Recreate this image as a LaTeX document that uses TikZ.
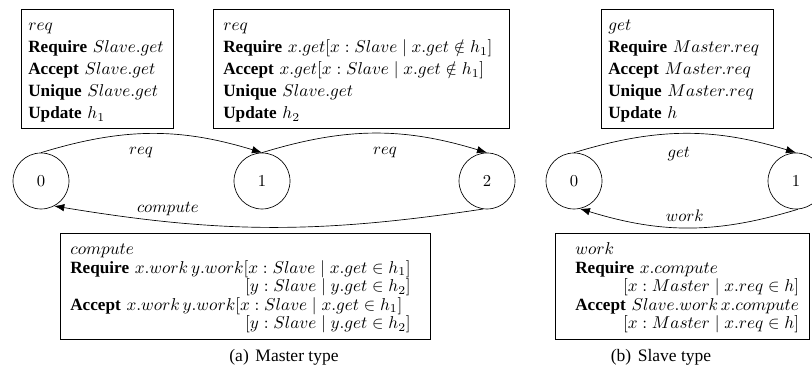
\RequirePackage{fix-cm}
\documentclass[tikz,border=0pt]{standalone}
\usepackage[no-math]{fontspec}
\setmainfont{Liberation Serif}
\usetikzlibrary{arrows.meta}
\newcommand{\tstrut}{\rule{0pt}{10pt}}
\newcommand{\bstrut}{\rule[-2.6pt]{0pt}{2.6pt}}
\tikzset{
  state/.style={draw,circle,minimum size=33.6pt,inner sep=0pt},
  spec/.style={draw,anchor=north west,align=left,inner ysep=3pt,
    font={\fontsize{10.3}{13.2}\selectfont}},
  guard/.style={spec,font={\fontsize{10.3}{11}\selectfont}},
  trans/.style={-{Latex[length=6pt,width=4.5pt]}},
}
\begin{document}
\begin{tikzpicture}[x=0.6pt,y=0.6pt]
  \useasboundingbox (0,0) rectangle (812,378);
  % (a) master: states
  \node[state] (m0) at (41,197) {$0$};
  \node[state] (m1) at (262,197) {$1$};
  \node[state] (m2) at (487,197) {$2$};
  % (a) master: transition specs
  \node[spec,text width=82.8pt,inner xsep=4.2pt] (mreq1) at (21,369)
    {\tstrut$req$\\ \textbf{Require} $Slave.get$\\ \textbf{Accept} $Slave.get$\\
     \textbf{Unique} $Slave.get$\\ \textbf{Update} $h_1$\bstrut};
  \node[spec,text width=165.6pt,inner xsep=6pt] (mreq2) at (213,369)
    {\tstrut$req$\\ \textbf{Require} $x.get[x : Slave \mid x.get \notin h_1]$\\
     \textbf{Accept} $x.get[x : Slave \mid x.get \notin h_1]$\\
     \textbf{Unique} $Slave.get$\\ \textbf{Update} $h_2$\bstrut};
  \node[guard,text width=210pt,inner xsep=6pt] (mcomp) at (60,145)
    {\begin{tabular}{@{}l@{}}
     \tstrut$compute$\\
     \textbf{Require} $x.work\,y.work[x : Slave \mid x.get \in h_1]$\\
     \hfill$[y : Slave \mid y.get \in h_2]$\\
     \textbf{Accept} $x.work\,y.work[x : Slave \mid x.get \in h_1]$\\
     \hfill$[y : Slave \mid y.get \in h_2]$
     \end{tabular}};
  % (a) master: transitions
  \draw[trans] (m0.north) to[bend left=17] node[pos=0.45,below=4.5pt] {$req$} (m1.north);
  \draw[trans] (m1.north) to[bend left=17] node[pos=0.55,below=4.5pt] {$req$} (m2.north);
  \draw[trans] (m2.-98) to[bend left=9] node[pos=0.75,above] {$compute$} (m0.-62);
  \node[font=\fontsize{10.5}{12}\selectfont] (capa) at (284,21) {(a)\hspace{4pt}Master type};

  % (b) slave: states
  \node[state] (s0) at (574,197) {$0$};
  \node[state] (s1) at (796,197) {$1$};
  % (b) slave: transition specs
  \node[spec,text width=94.8pt,inner xsep=4.2pt] (sget) at (601,369)
    {\tstrut$get$\\ \textbf{Require} $Master.req$\\ \textbf{Accept} $Master.req$\\
     \textbf{Unique} $Master.req$\\ \textbf{Update} $h$\bstrut};
  \node[guard,text width=128.4pt,inner xsep=12pt] (swork) at (555,145)
    {\begin{tabular}{@{}l@{}}
     \tstrut$work$\\
     \textbf{Require} $x.compute$\\
     \hfill$[x : Master \mid x.req \in h]$\\
     \textbf{Accept} $Slave.work\,x.compute$\\
     \hfill$[x : Master \mid x.req \in h]$
     \end{tabular}};
  % (b) slave: transitions
  \draw[trans] (s0.north) to[bend left=17] node[pos=0.47,below=4.5pt] {$get$} (s1.north);
  \draw[trans] (s1.-86) to[bend left=17] node[pos=0.52,above] {$work$} (s0.-78);
  \node[font=\fontsize{10.5}{12}\selectfont] (capb) at (661,21) {(b)\hspace{4pt}Slave type};
\end{tikzpicture}
\end{document}
